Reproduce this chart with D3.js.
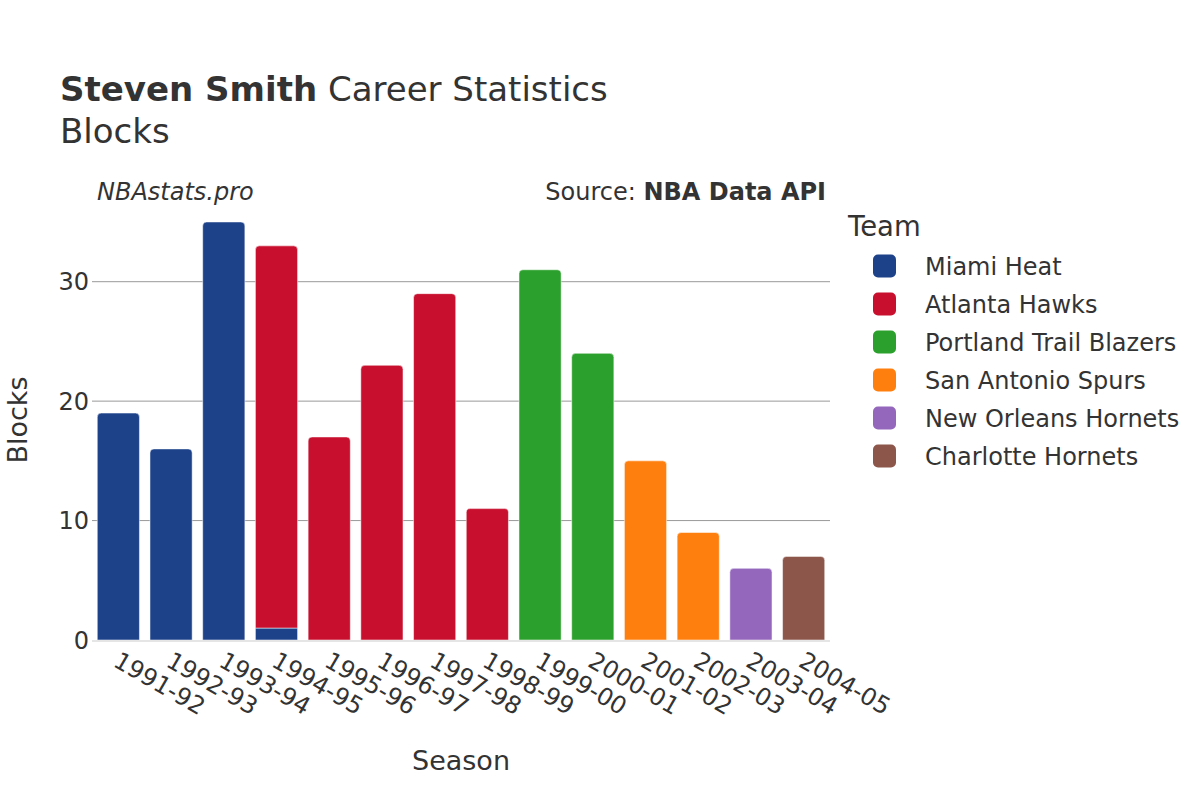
<!DOCTYPE html>
<html><head><meta charset="utf-8">
<script src="https://cdn.jsdelivr.net/npm/d3@7"></script>
<style>body{margin:0;background:#fff}svg{display:block}text{font-family:"DejaVu Sans",sans-serif;fill:#333}</style>
</head><body><svg id="c" width="1200" height="800"></svg>
<script>
const seasons = ["1991-92","1992-93","1993-94","1994-95","1995-96","1996-97","1997-98","1998-99","1999-00","2000-01","2001-02","2002-03","2003-04","2004-05"];
const teams = ["Miami Heat","Atlanta Hawks","Portland Trail Blazers","San Antonio Spurs","New Orleans Hornets","Charlotte Hornets"];
const teamColors = ["#1d428a","#c8102e","#2ca02c","#ff7f0e","#9467bd","#8c564b"];
const miamiHeat = [19,16,35,1,0,0,0,0,0,0,0,0,0,0];
const atlantaHawks = [0,0,0,32,17,23,29,11,0,0,0,0,0,0];
const portland = [0,0,0,0,0,0,0,0,31,24,0,0,0,0];
const sanAntonio = [0,0,0,0,0,0,0,0,0,0,15,9,0,0];
const newOrleans = [0,0,0,0,0,0,0,0,0,0,0,0,6,0];
const charlotte = [0,0,0,0,0,0,0,0,0,0,0,0,0,7];
const yTicks = [0,10,20,30];
const seriesValues = [miamiHeat, atlantaHawks, portland, sanAntonio, newOrleans, charlotte];

const svg = d3.select("#c");
const L = 92, R = 830, T = 200, B = 640;
const x = d3.scaleBand().domain(seasons).range([L, R]).paddingInner(0.2).paddingOuter(0.1);
const y = d3.scaleLinear().domain([0, 36.84]).range([B, T]);

svg.append("g").selectAll("line").data(yTicks.filter(d => d > 0)).join("line")
  .attr("x1", L).attr("x2", R).attr("y1", d => y(d)).attr("y2", d => y(d))
  .attr("stroke", "#999").attr("stroke-width", 1);

svg.append("g").selectAll("text").data(yTicks).join("text")
  .attr("x", L - 3).attr("y", d => y(d)).attr("dy", "0.36em")
  .attr("text-anchor", "end").attr("font-size", 24).text(d => d);

const rows = seasons.map((s, i) => {
  const o = {season: s};
  teams.forEach((t, j) => o[t] = seriesValues[j][i]);
  return o;
});
const stack = d3.stack().keys(teams)(rows);

const topKey = seasons.map((s, i) => {
  let k = null;
  teams.forEach((t, j) => { if (seriesValues[j][i] > 0) k = t; });
  return k;
});

function barPath(x0, y0, w, y1, r) {
  const h = y0 - y1;
  r = Math.min(r, h, w / 2);
  return `M${x0},${y0}V${y1 + r}Q${x0},${y1} ${x0 + r},${y1}H${x0 + w - r}Q${x0 + w},${y1} ${x0 + w},${y1 + r}V${y0}Z`;
}

stack.forEach((layer, j) => {
  svg.append("g").selectAll("path").data(layer.map((d, i) => ({d, i})).filter(o => o.d[1] - o.d[0] > 0)).join("path")
    .attr("d", o => {
      const bx = x(seasons[o.i]), w = x.bandwidth();
      const y0 = y(o.d[0]), y1 = y(o.d[1]);
      const r = topKey[o.i] === teams[j] ? 4 : 0;
      return barPath(bx, y0, w, y1, r);
    })
    .attr("fill", teamColors[j])
    .attr("stroke", "rgba(255,255,255,0.5)").attr("stroke-width", 1);
});

svg.append("line").attr("x1", L).attr("x2", R).attr("y1", y(0)+1).attr("y2", y(0)+1)
  .attr("stroke", "#e5e5e5").attr("stroke-width", 2);

svg.append("g").selectAll("text").data(seasons).join("text")
  .attr("transform", d => `translate(${x(d) + x.bandwidth()/2 - 2},${B + 18}) rotate(30)`)
  .attr("font-size", 24).attr("text-anchor", "start").attr("dy", "0.36em").text(d => d);

svg.append("text").attr("x", 461).attr("y", 770).attr("text-anchor", "middle").attr("font-size", 27).text("Season");
svg.append("text").attr("transform", `translate(27,420) rotate(-90)`).attr("text-anchor", "middle").attr("font-size", 27).text("Blocks");

const title = svg.append("text").attr("x", 60).attr("y", 101).attr("font-size", 34);
title.append("tspan").attr("font-weight", "bold").text("Steven Smith");
title.append("tspan").text(" Career Statistics");
svg.append("text").attr("x", 60).attr("y", 143).attr("font-size", 34).text("Blocks");

svg.append("text").attr("x", 97).attr("y", 200).attr("font-size", 24).attr("font-style", "italic").text("NBAstats.pro");
const src = svg.append("text").attr("x", 826).attr("y", 200).attr("font-size", 24).attr("text-anchor", "end");
src.append("tspan").text("Source: ");
src.append("tspan").attr("font-weight", "bold").text("NBA Data API");

svg.append("text").attr("x", 848).attr("y", 236).attr("font-size", 27.5).text("Team");
const lg = svg.append("g").selectAll("g").data(teams).join("g")
  .attr("transform", (d, i) => `translate(873,${266 + i * 38})`);
lg.append("rect").attr("x", 0).attr("y", -11.5).attr("width", 23).attr("height", 23).attr("rx", 5)
  .attr("fill", (d, i) => teamColors[i]);
lg.append("text").attr("x", 52).attr("dy", "0.36em").attr("font-size", 24).text(d => d);
</script></body></html>
